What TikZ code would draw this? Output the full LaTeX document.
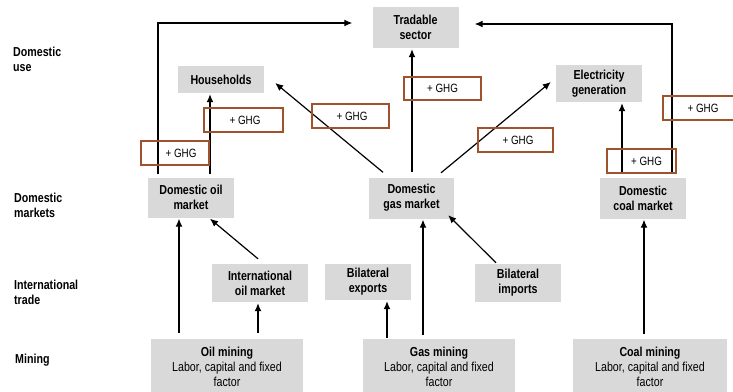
\documentclass[tikz,border=0pt]{standalone}
\usepackage{fontspec}
\setmainfont{Liberation Sans}[FakeStretch=0.82]
\usetikzlibrary{arrows.meta}
\definecolor{boxgray}{RGB}{217,217,217}
\definecolor{ghgbrown}{RGB}{160,82,45}
\begin{document}
\begin{tikzpicture}[x=1pt,y=-1pt,
  font=\fontsize{13}{15}\selectfont,
  gbox/.style={fill=boxgray, draw=none, inner sep=0pt, align=center, font=\fontsize{13}{15}\selectfont\bfseries},
  minbox/.style={fill=boxgray, draw=none, inner sep=0pt, align=center, font=\fontsize{13}{15}\selectfont},
  ghg/.style={draw=ghgbrown, line width=1.1pt, inner sep=0pt, minimum height=24pt, font=\fontsize{12}{14}\selectfont},
  rowlab/.style={anchor=west, align=left, inner sep=0pt, font=\fontsize{13}{15}\selectfont\bfseries},
  arr/.style={-{Latex[length=8pt,width=7pt]}, line width=1.2pt}]
\useasboundingbox (0,0) rectangle (733,391);

% row labels
\node[rowlab] (lu) at (13,59.5) {Domestic\\use};
\node[rowlab] (lm) at (14,205.5) {Domestic\\markets};
\node[rowlab] (lt) at (14,292) {International\\trade};
\node[rowlab] (lmi) at (15,360) {Mining};

% grey boxes
\node[gbox, minimum width=86pt, minimum height=41pt] (trad) at (415.5,27.5) {Tradable\\sector};
\node[gbox, minimum width=86pt, minimum height=27pt] (house) at (221,79.5) {Households};
\node[gbox, minimum width=86pt, minimum height=37pt] (elec) at (599,83.5) {Electricity\\generation};
\node[gbox, minimum width=86pt, minimum height=40pt] (domoil) at (191,197.5) {Domestic oil\\market};
\node[gbox, minimum width=85pt, minimum height=41pt] (domgas) at (411.5,198) {Domestic\\gas market};
\node[gbox, minimum width=86pt, minimum height=41pt] (domcoal) at (643,198) {Domestic\\coal market};
\node[gbox, minimum width=96pt, minimum height=38pt] (intoil) at (260,283) {International\\oil market};
\node[gbox, minimum width=86pt, minimum height=36pt] (bilexp) at (368,282) {Bilateral\\exports};
\node[gbox, minimum width=86pt, minimum height=38pt] (bilimp) at (518,283) {Bilateral\\imports};
\node[minbox, minimum width=152pt, minimum height=56pt] (oilmin) at (227,367) {\textbf{Oil mining}\\Labor, capital and fixed\\factor};
\node[minbox, minimum width=152pt, minimum height=56pt] (gasmin) at (439,367) {\textbf{Gas mining}\\Labor, capital and fixed\\factor};
\node[minbox, minimum width=154pt, minimum height=56pt] (coalmin) at (650,367) {\textbf{Coal mining}\\Labor, capital and fixed\\factor};

% arrows
\draw[arr] ([xshift=-33pt,yshift=3pt]domoil.north) |- ([xshift=-20pt,yshift=4.5pt]trad.west);
\draw[arr] ([xshift=19pt,yshift=3pt]domoil.north) -- ([xshift=-11pt,yshift=-1pt]house.south);
\draw[arr] ([xshift=-28.5pt,yshift=5pt]domgas.north) -- ([xshift=11pt,yshift=-3.5pt]house.east);
\draw[arr] ([xshift=0.5pt,yshift=5pt]domgas.north) -- ([xshift=-3.5pt,yshift=-1pt]trad.south);
\draw[arr] ([xshift=29.5pt,yshift=4.5pt]domgas.north) -- ([xshift=-5pt,yshift=1.5pt]elec.west);
\draw[arr] ([xshift=-21pt,yshift=4.5pt]domcoal.north) -- ([xshift=23pt,yshift=-1pt]elec.south);
\draw[arr] ([xshift=29pt,yshift=4.5pt]domcoal.north) |- ([xshift=16pt,yshift=3.5pt]trad.east);
\draw[arr] ([xshift=-48pt,yshift=6pt]oilmin.north) -- ([xshift=-12pt,yshift=-1pt]domoil.south);
\draw[arr] ([xshift=31pt,yshift=6pt]oilmin.north) -- ([xshift=-2pt,yshift=-1pt]intoil.south);
\draw[arr] ([xshift=-2pt,yshift=5pt]intoil.north) -- ([xshift=19pt,yshift=-1pt]domoil.south);
\draw[arr] ([xshift=-52pt,yshift=1pt]gasmin.north) -- ([xshift=19pt,yshift=-1pt]bilexp.south);
\draw[arr] ([xshift=-16pt,yshift=4pt]gasmin.north) -- ([xshift=11.5pt,yshift=-1pt]domgas.south);
\draw[arr] ([xshift=-22pt,yshift=1pt]bilimp.north) -- ([xshift=-6pt,yshift=3.5pt]domgas.south east);
\draw[arr] ([xshift=-6pt,yshift=5pt]coalmin.north) -- ([xshift=1pt,yshift=-1pt]domcoal.south);

% GHG boxes
\node[ghg, minimum width=68pt] (g1) at (175,153) {\hspace*{12pt}+ GHG};
\node[ghg, minimum width=79pt] (g2) at (243.5,120) {\hspace*{3pt}+ GHG};
\node[ghg, minimum width=77pt] (g3) at (350.5,116) {\hspace*{3pt}+ GHG};
\node[ghg, minimum width=77pt, minimum height=23pt] (g4) at (442.5,88.5) {+ GHG};
\node[ghg, minimum width=75pt] (g5) at (515.5,140) {\hspace*{5pt}+ GHG};
\node[ghg, minimum width=80pt] (g6) at (703,108) {+ GHG};
\node[ghg, minimum width=69pt] (g7) at (641.5,161) {\hspace*{10pt}+ GHG};
\end{tikzpicture}
\end{document}
